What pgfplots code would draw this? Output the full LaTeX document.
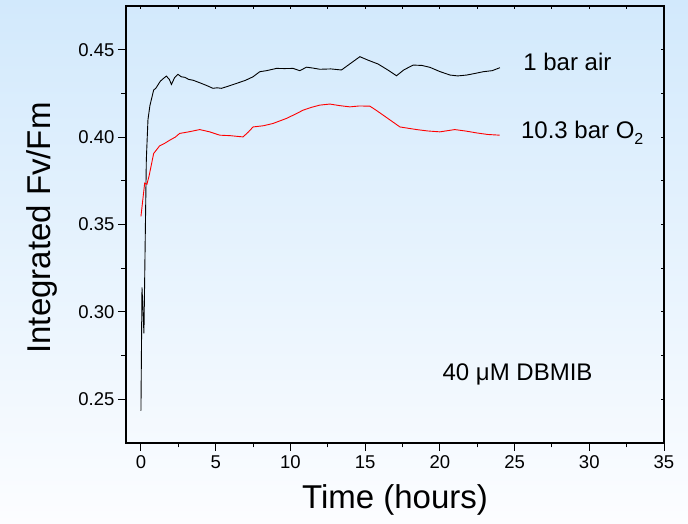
\documentclass[border=0pt]{standalone}
\usepackage{pgfplots}
\pgfplotsset{compat=1.18}
\usepackage{fontspec}
\setmainfont{Liberation Sans}
\definecolor{bgtop}{RGB}{210,233,252}
\definecolor{bgmid}{RGB}{236,245,254}
\definecolor{bgbot}{RGB}{252,253,255}
\begin{document}
\begin{tikzpicture}
\path[use as bounding box] (0,0) rectangle (688pt,524pt);
\shade[top color=bgtop, middle color=bgmid, bottom color=bgbot] (0,0) rectangle (688pt,524pt);
\pgfplotsset{common/.style={
  at={(126pt,81pt)}, anchor=south west, scale only axis,
  width=538pt, height=437pt,
  xmin=-1, xmax=35, ymin=0.225, ymax=0.475,
  xtick={0,5,...,35}, ytick={0.25,0.30,...,0.45},
  minor x tick num=1, minor y tick num=1,
  axis line style={line width=1.1pt},
  every tick/.style={black, line width=0.9pt},
}}
\begin{axis}[common,
  tick align=outside, xtick pos=left, ytick pos=left,
  major tick length=8pt, minor tick length=4.5pt,
  /pgf/number format/assume math mode=true,
  tick label style={font=\fontsize{18.5}{22}\selectfont},
  xticklabel style={yshift=-1pt},
  yticklabel style={/pgf/number format/fixed, /pgf/number format/fixed zerofill, /pgf/number format/precision=2},
  xlabel={Time (hours)}, ylabel={Integrated Fv/Fm},
  xlabel style={font=\fontsize{33}{33}\selectfont, at={(axis description cs:0.5,-0.130)}, anchor=center},
  ylabel style={font=\fontsize{33}{33}\selectfont, at={(axis description cs:-0.156,0.492)}, anchor=center, rotate=0},
  clip=false,
]
\addplot[black, line width=0.9pt] coordinates {
(0,0.2435) (0.07,0.314) (0.2,0.2877) (0.3,0.35) (0.36,0.387) (0.47,0.410) (0.6,0.418)
(0.85,0.4269) (1.0,0.428) (1.3,0.432) (1.5,0.4335) (1.7,0.4349) (1.9,0.4330) (2.04,0.4301)
(2.25,0.4340) (2.48,0.4359) (2.7,0.4345) (2.93,0.4342) (3.2,0.4330) (3.5,0.4325) (3.93,0.4311)
(4.4,0.4295) (4.82,0.4279) (5.1,0.4282) (5.38,0.4279) (5.8,0.4290) (6.39,0.4307) (7.0,0.4325)
(7.5,0.4345) (7.95,0.4374) (8.4,0.4380) (9.07,0.4393) (9.6,0.4392) (10.18,0.4393) (10.63,0.4380)
(11.08,0.4400) (11.5,0.4395) (11.97,0.4388) (12.7,0.4390) (13.42,0.4384) (14.0,0.4420) (14.65,0.4460)
(15.2,0.4440) (15.87,0.4418) (16.5,0.4385) (17.1,0.4351) (17.6,0.4385) (18.22,0.4412) (18.8,0.4410)
(19.34,0.4399) (20.0,0.4375) (20.68,0.4355) (21.2,0.4350) (21.8,0.4355) (22.4,0.4365) (22.9,0.4374)
(23.5,0.4380) (24.02,0.4397)
};
\addplot[red, line width=0.9pt] coordinates {
(0,0.3546) (0.25,0.3737) (0.4,0.3730) (0.55,0.378) (0.85,0.3906) (1.25,0.395) (1.6,0.3965)
(1.92,0.3982) (2.3,0.4000) (2.59,0.4021) (3.2,0.4030) (3.93,0.4043) (4.6,0.4030) (5.27,0.4011)
(6.0,0.4008) (6.83,0.4001) (7.2,0.4030) (7.5,0.4058) (8.2,0.4065) (8.84,0.4078) (9.74,0.4107)
(10.3,0.4130) (10.85,0.4154) (11.4,0.4170) (11.97,0.4183) (12.64,0.4189) (13.3,0.4180) (13.98,0.4173)
(14.6,0.4178) (15.32,0.4177) (15.8,0.4150) (16.2,0.4126) (16.8,0.4090) (17.33,0.4058) (18.45,0.4043)
(19.2,0.4035) (20.0,0.4030) (21.0,0.4043) (21.7,0.4035) (22.46,0.4024) (23.2,0.4015) (24.0,0.4011)
};
\node[anchor=west, font=\fontsize{24}{24}\selectfont] at (axis cs:25.35,0.4432) {1 bar air};
\node[anchor=west, font=\fontsize{24}{24}\selectfont] at (axis cs:25.2,0.4025) {10.3 bar O\raisebox{-0.45ex}{\fontsize{16}{16}\selectfont 2}};
\node[anchor=center, font=\fontsize{24}{24}\selectfont] at (axis cs:25.2,0.2640) {40 μM DBMIB};
\end{axis}
\begin{axis}[common,
  tick align=inside, xtick pos=right, ytick pos=right,
  major tick length=3.5pt, minor tick length=3.5pt,
  xticklabels={}, yticklabels={},
]
\end{axis}
\end{tikzpicture}
\end{document}
